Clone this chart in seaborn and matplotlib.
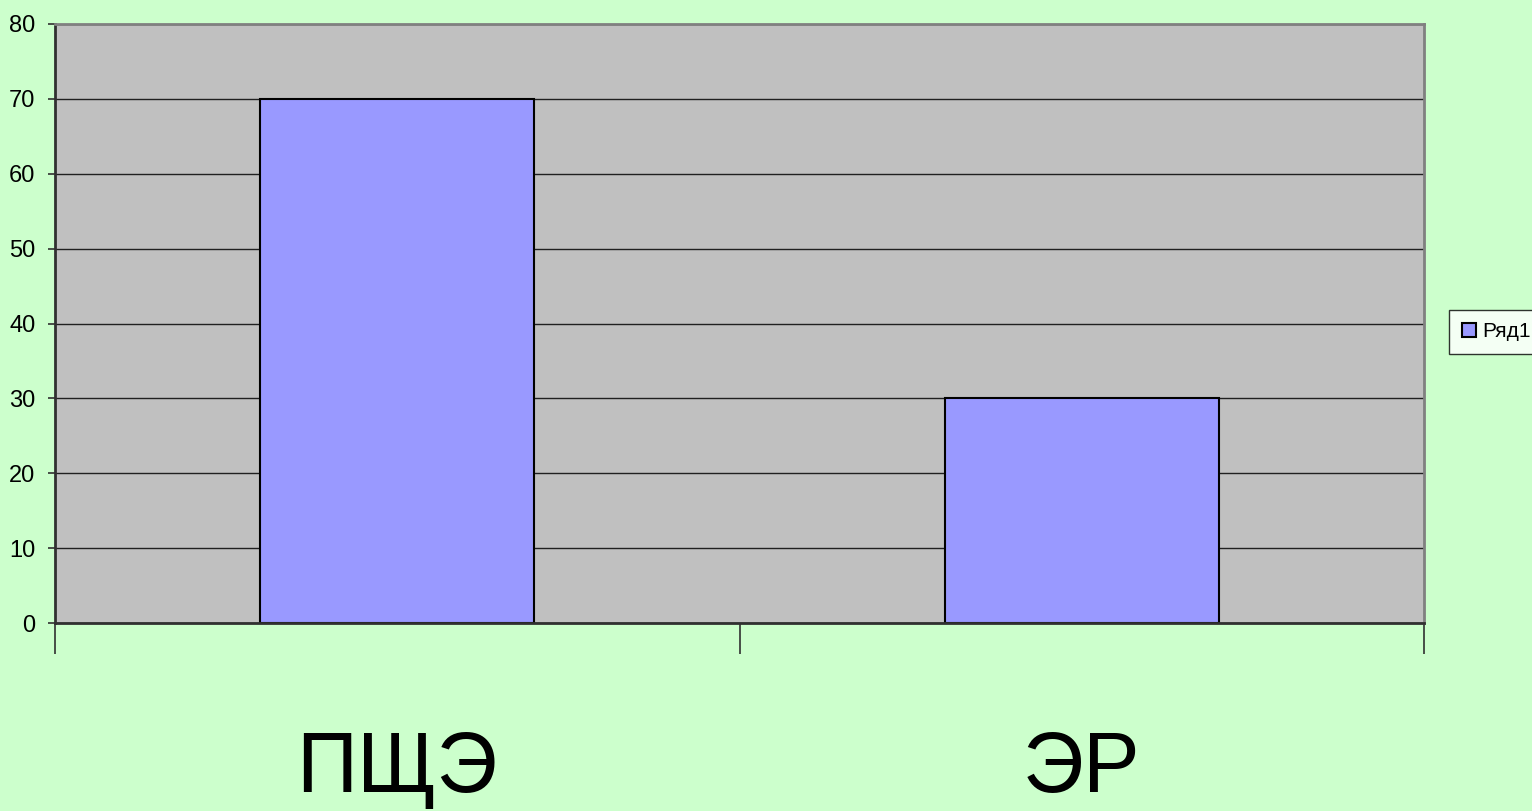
import pandas as pd
import matplotlib.pyplot as plt
import seaborn as sns

categories = ['ПЩЭ', 'ЭР']
values = [70, 30]
series_name = 'Ряд1'
y_ticks = [0, 10, 20, 30, 40, 50, 60, 70, 80]

df = pd.DataFrame({'cat': categories, 'val': values})

sns.set_style('white')
plt.rcParams['font.family'] = ['Liberation Sans', 'DejaVu Sans']
plt.rcParams['text.color'] = 'black'
plt.rcParams['xtick.color'] = 'black'
plt.rcParams['ytick.color'] = 'black'

fig = plt.figure(figsize=(15.32, 8.11), dpi=100, facecolor='#CCFFCC')
ax = fig.add_axes([55/1532, 1 - 623/811, (1424 - 55)/1532, (623 - 24)/811])
ax.set_facecolor('#C0C0C0')

sns.barplot(data=df, x='cat', y='val', color='#9999FF', edgecolor='black',
            linewidth=1.5, width=0.4, saturation=1, label=series_name, ax=ax)

ax.set_xlim(-0.5, 1.5)
ax.set_ylim(0, 80)
ax.set_yticks(y_ticks)
ax.yaxis.grid(True, color='#202020', linewidth=1)
ax.set_axisbelow(True)

# category boundary ticks below the axis
ax.set_xticks([-0.5, 0.5, 1.5], minor=True)
ax.tick_params(axis='x', which='minor', bottom=True, length=22, width=1.2,
               color='#303030', direction='out')
ax.tick_params(axis='x', which='major', bottom=False, length=0, pad=77,
               labelsize=61, labelcolor='black')
ax.tick_params(axis='y', left=True, length=5, width=1.2, color='#303030',
               direction='out', labelsize=17, pad=9, labelcolor='black')

for s in ['left', 'bottom']:
    ax.spines[s].set_color('#303030')
    ax.spines[s].set_linewidth(2)
for s in ['top', 'right']:
    ax.spines[s].set_color('#808080')
    ax.spines[s].set_linewidth(2)

ax.set_xlabel('')
ax.set_ylabel('')

leg = ax.legend(loc='center left', bbox_to_anchor=(1449/1532, 1 - 332/811),
                bbox_transform=fig.transFigure, frameon=True, fancybox=False,
                fontsize=15, handlelength=0.7, handleheight=0.7, handletextpad=0.3,
                borderpad=0.6, borderaxespad=0, labelcolor='black')
leg.get_frame().set_edgecolor('black')
leg.get_frame().set_facecolor('white')
leg.get_frame().set_linewidth(1)

fig.savefig('out.png', dpi=100, facecolor=fig.get_facecolor())
